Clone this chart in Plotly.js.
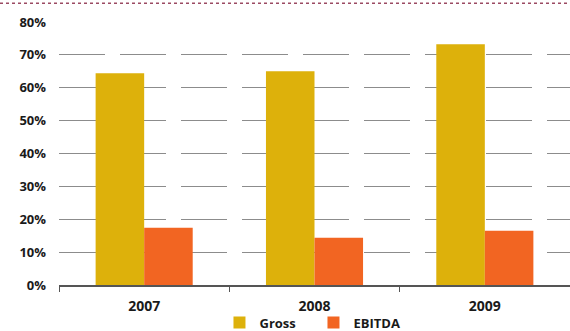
<!DOCTYPE html>
<html><head><meta charset="utf-8">
<script src="https://cdn.plot.ly/plotly-3.0.1.min.js"></script>
<style>body{margin:0;background:#fff}#c{width:570px;height:331px}</style>
</head><body><div id="c"></div>
<script>
const years = ['2007', '2008', '2009'];
const gross = [64.4, 65.0, 73.2];
const ebitda = [17.4, 14.4, 16.5];
const yTicks = [0, 10, 20, 30, 40, 50, 60, 70, 80];
const yTickLabels = ['0%', '10%', '20%', '30%', '40%', '50%', '60%', '70%', '80%'];

const F = '"Open Sans", Lato, sans-serif';
const data = [
  {type: 'bar', name: 'Gross', x: years, y: gross, marker: {color: '#DDB10B'}},
  {type: 'bar', name: 'EBITDA', x: years, y: ebitda, marker: {color: '#F26522'}}
];
const layout = {
  width: 570, height: 331,
  margin: {l: 59, r: 0, t: 21.7, b: 45.5, autoexpand: false},
  paper_bgcolor: '#fff', plot_bgcolor: '#fff',
  barmode: 'group', bargap: 0.43, bargroupgap: 0,
  font: {family: F, color: '#1a1a1a'},
  xaxis: {
    type: 'category', showline: true, linecolor: '#555', linewidth: 1.5,
    ticks: 'outside', tickson: 'boundaries', ticklen: 5, tickcolor: '#555', tickwidth: 1,
    showgrid: false, automargin: false, ticklabelstandoff: 8,
    tickfont: {family: F, size: 14, color: '#1a1a1a', weight: 'bold'}
  },
  yaxis: {
    range: [0, 80], tickmode: 'array', tickvals: yTicks, ticktext: yTickLabels,
    showgrid: true, gridcolor: '#8c8c8c', gridwidth: 1, griddash: '46px,15px',
    zeroline: false, showline: false, ticks: '', ticklabelstandoff: 12, automargin: false,
    tickfont: {family: F, size: 13, color: '#1a1a1a', weight: 'bold'}
  },
  showlegend: true,
  legend: {
    orientation: 'h', x: 0.498, xanchor: 'center', y: -0.143, yanchor: 'middle',
    font: {family: F, size: 13, color: '#1a1a1a', weight: 'bold'},
    itemwidth: 30, traceorder: 'normal', entrywidth: 49, entrywidthmode: 'pixels',
    borderwidth: 0, bgcolor: 'rgba(0,0,0,0)'
  },
  shapes: [{
    type: 'line', xref: 'paper', yref: 'paper',
    x0: -59/511, x1: 1, y0: 1 + 18.7/263.8, y1: 1 + 18.7/263.8,
    line: {color: '#9b4a63', width: 1.5, dash: 'dot'}
  }]
};
Plotly.newPlot('c', data, layout, {displayModeBar: false, staticPlot: true});
</script></body></html>
